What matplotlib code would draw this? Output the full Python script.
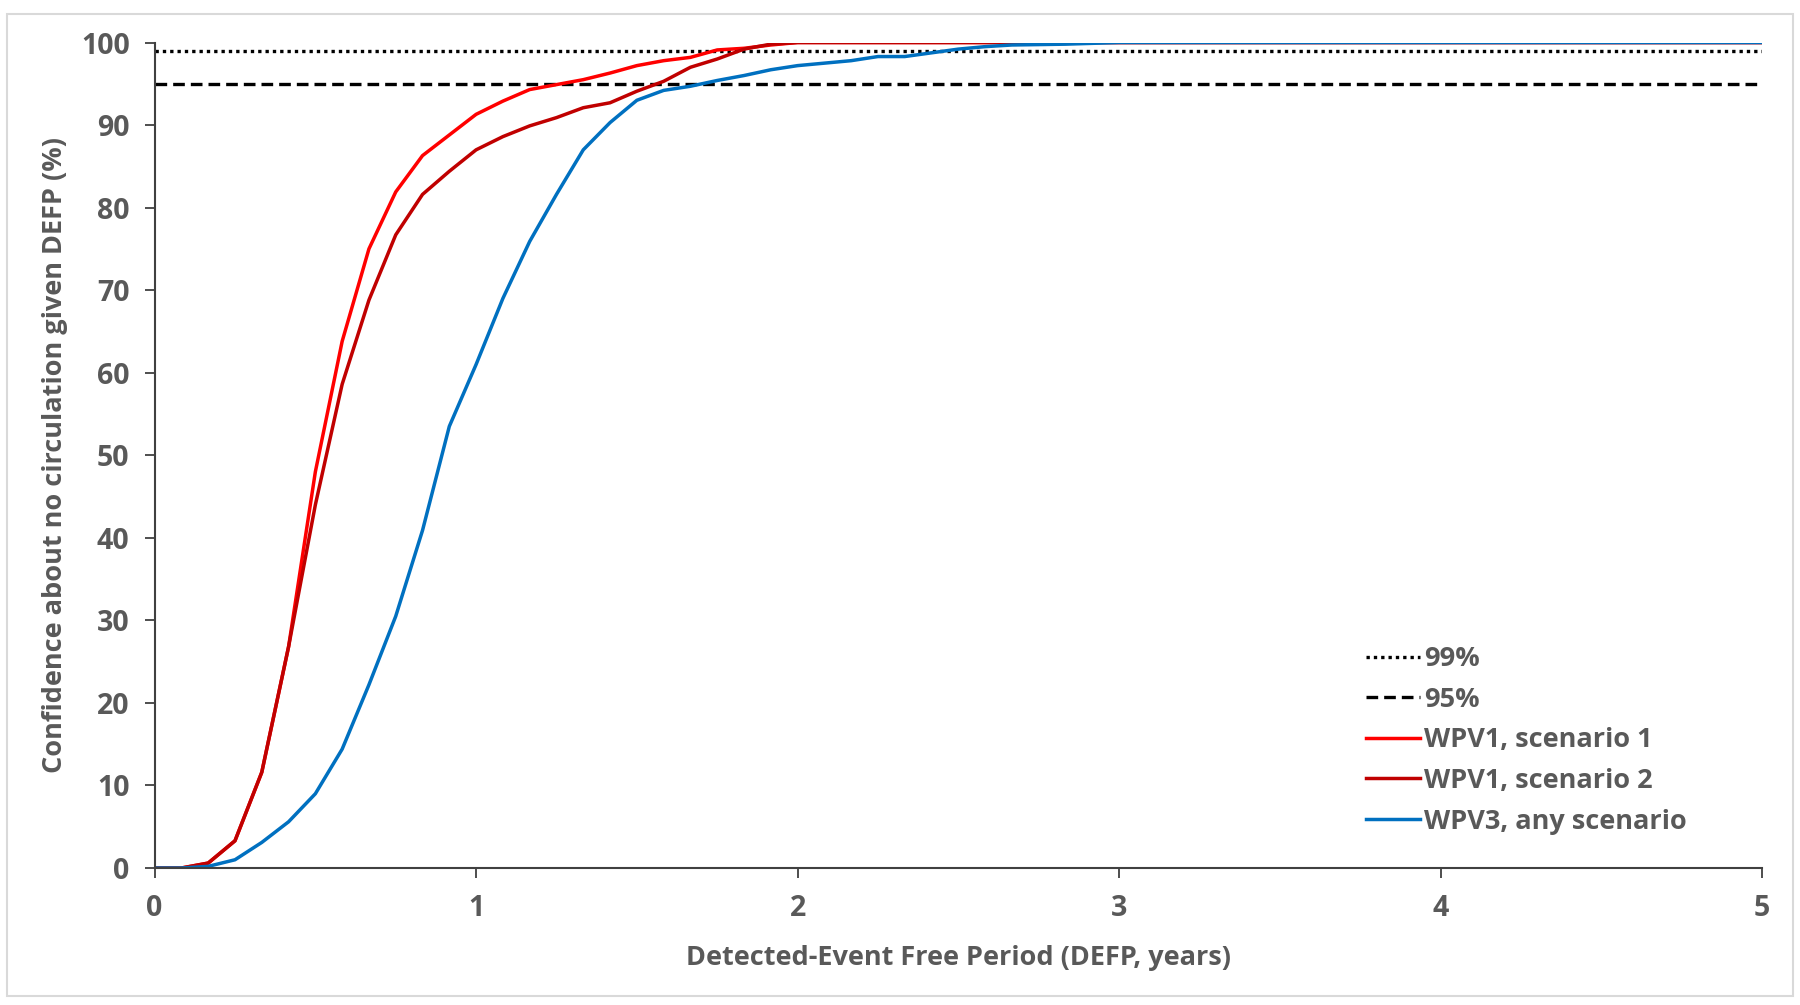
import matplotlib.pyplot as plt
from matplotlib.patches import Rectangle

# months after last detected event -> confidence (%)
MONTHS_WPV1 = [0, 1, 2, 3, 4, 5, 6, 7, 8, 9, 10, 11, 12, 13, 14, 15, 16, 17, 18,
               19, 20, 21, 22, 23, 24, 60]
WPV1_S1 = [0, 0, 0.6, 3.3, 11.6, 26.8, 48.0, 63.8, 75.0, 81.9, 86.3, 88.8, 91.3,
           92.9, 94.3, 94.9, 95.5, 96.3, 97.2, 97.8, 98.2, 99.1, 99.3, 99.7, 100, 100]
WPV1_S2 = [0, 0, 0.6, 3.3, 11.6, 26.8, 44.0, 58.6, 68.8, 76.7, 81.6, 84.4, 87.0,
           88.6, 89.9, 90.9, 92.1, 92.7, 94.1, 95.3, 97.0, 98.0, 99.2, 99.8, 100, 100]

MONTHS_WPV3 = [0, 1, 2, 3, 4, 5, 6, 7, 8, 9, 10, 11, 12, 13, 14, 15, 16, 17, 18,
               19, 20, 21, 22, 23, 24, 25, 26, 27, 28, 29, 30, 31, 32, 33, 34, 35,
               36, 60]
WPV3 = [0, 0, 0.2, 1.0, 3.1, 5.6, 9.0, 14.4, 22.2, 30.5, 40.9, 53.5, 61.0, 69.0,
        75.9, 81.6, 87.0, 90.3, 93.0, 94.2, 94.7, 95.4, 96.0, 96.7, 97.2, 97.5,
        97.8, 98.3, 98.3, 98.75, 99.2, 99.5, 99.7, 99.75, 99.8, 99.9, 100, 100]

REF_X = [0, 5]
REF_99 = [99, 99]
REF_95 = [95, 95]

GRAY = "#595959"
plt.rcParams['font.family'] = ['Open Sans', 'DejaVu Sans']
plt.rcParams['font.weight'] = 'bold'
TICK_FS = 20.5
LABEL_FS = 19.5


def years(months):
    return [m / 12 for m in months]


fig = plt.figure(figsize=(18, 10.05), dpi=100)
fig.patches.append(Rectangle((0.0039, 0.009), 0.9922, 0.977, transform=fig.transFigure,
                             fill=False, edgecolor="#D9D9D9", lw=1.5))
ax = fig.add_axes([0.0859, 0.1363, 0.8930, 0.8214])

ax.plot(REF_X, REF_99, color="black", lw=2.4, linestyle=(0, (1, 1.2)), label="99%")
ax.plot(REF_X, REF_95, color="black", lw=2.4, linestyle=(0, (3.5, 1.8)), label="95%")
ax.plot(years(MONTHS_WPV1), WPV1_S1, color="#FF0000", lw=2.5, label="WPV1, scenario 1")
ax.plot(years(MONTHS_WPV1), WPV1_S2, color="#C00000", lw=2.5, label="WPV1, scenario 2")
ax.plot(years(MONTHS_WPV3), WPV3, color="#0070C0", lw=2.5, label="WPV3, any scenario")

ax.set_xlim(0, 5)
ax.set_ylim(0, 100)
ax.set_xticks(range(0, 6))
ax.set_yticks(range(0, 101, 10))
for s in ["top", "right"]:
    ax.spines[s].set_visible(False)
for s in ["left", "bottom"]:
    ax.spines[s].set_color("#404040")
    ax.spines[s].set_linewidth(1.5)
ax.tick_params(axis="both", length=7, width=1.3, color="#404040", labelcolor=GRAY,
               labelsize=TICK_FS)
ax.tick_params(axis="x", pad=12)
ax.tick_params(axis="y", pad=11)
for lbl in ax.get_xticklabels() + ax.get_yticklabels():
    lbl.set_fontweight("bold")

ax.set_xlabel("Detected-Event Free Period (DEFP, years)", color=GRAY,
              fontsize=LABEL_FS, fontweight="bold")
ax.set_ylabel("Confidence about no circulation given DEFP (%)", color=GRAY,
              fontsize=LABEL_FS, fontweight="bold")
ax.xaxis.set_label_coords(0.5, -0.093, transform=ax.transAxes)
ax.yaxis.set_label_coords(-0.054, 0.5, transform=ax.transAxes)

leg = ax.legend(loc="upper left", bbox_to_anchor=(1366 / 1800, 1 - 646 / 1005),
                bbox_transform=fig.transFigure, frameon=False, borderpad=0,
                borderaxespad=0, handlelength=2.0, handletextpad=0.15,
                labelspacing=0.54, fontsize=LABEL_FS)
for t in leg.get_texts():
    t.set_color(GRAY)
    t.set_fontweight("bold")

fig.savefig("out.png", dpi=100)
